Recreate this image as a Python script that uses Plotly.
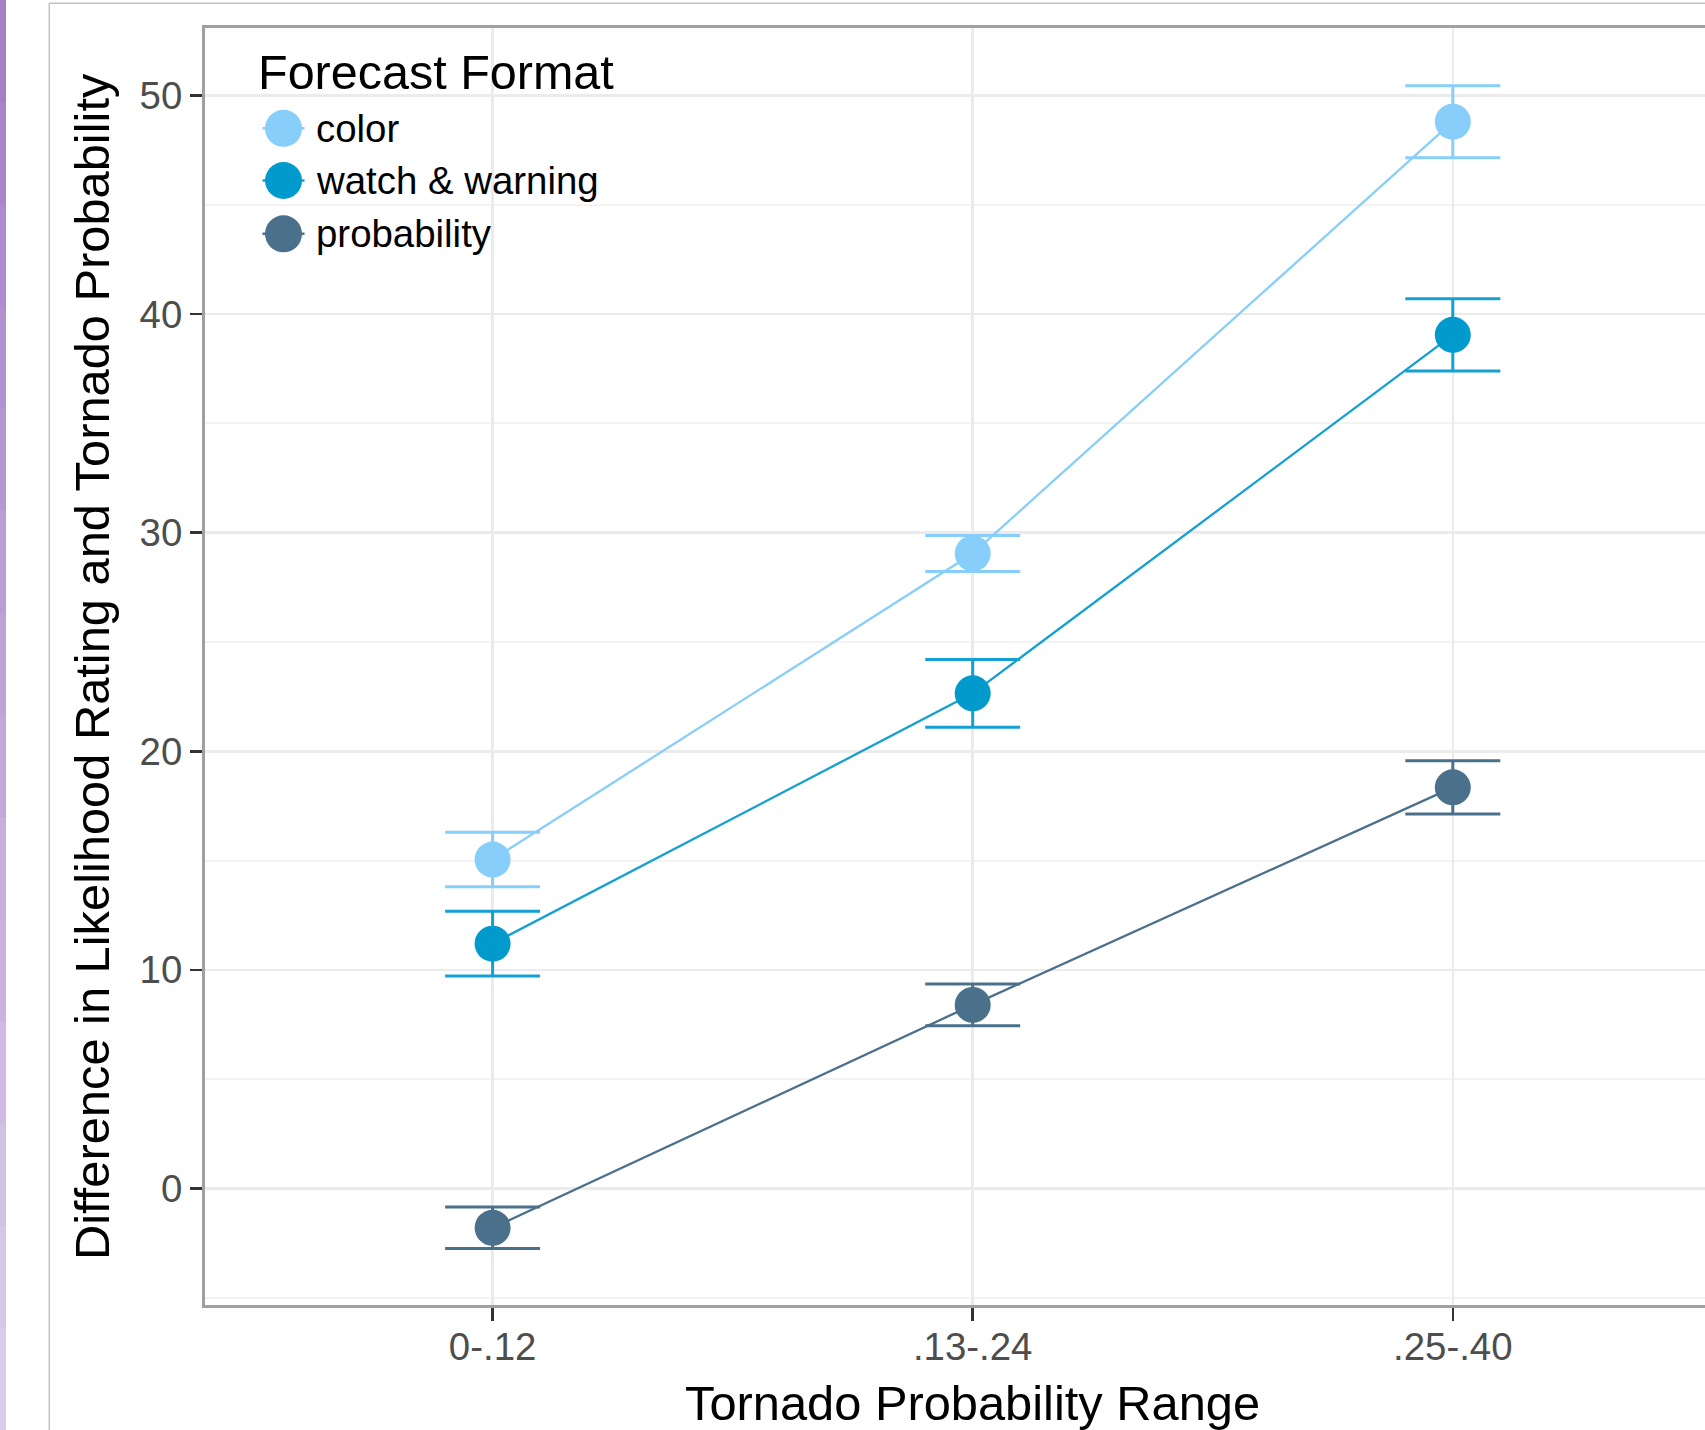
import plotly.graph_objects as go

# ---------------- data ----------------
categories = ["0-.12", ".13-.24", ".25-.40"]
series_names = ["color", "watch & warning", "probability"]
means_color = [15.05, 29.05, 48.8]
means_watch = [11.2, 22.65, 39.05]
means_prob = [-1.8, 8.4, 18.35]
se_color = [1.25, 0.82, 1.65]
se_watch = [1.48, 1.55, 1.65]
se_prob = [0.95, 0.95, 1.22]
y_ticks = [0, 10, 20, 30, 40, 50]

marker_colors = ["#87cefa", "#009acd", "#4a708b"]
line_colors = ["#87cefa", "#14a0d2", "#4a708b"]

W, H = 1705, 1430
FONT = "Liberation Sans, Arial, sans-serif"

# panel geometry (pixels)
pl, pt, pb = 205, 28, 1305
x_first_px, x_step_px = 492.6, 480.1

xs = list(range(1, len(categories) + 1))
x_range = [1 - (x_first_px - pl) / x_step_px, 1 + (W - x_first_px) / x_step_px]
y_px50, y_px0 = 95.5, 1188.5
ppu = (y_px0 - y_px50) / 50.0
y_range = [0 - (pb - y_px0) / ppu, 50 + (y_px50 - pt) / ppu]

fig = go.Figure()

all_means = [means_color, means_watch, means_prob]
all_se = [se_color, se_watch, se_prob]

for name, m, se, mc, lc in zip(series_names, all_means, all_se, marker_colors, line_colors):
    fig.add_trace(go.Scatter(
        x=xs, y=m, mode="lines+markers", name=name, showlegend=False,
        line=dict(color=lc, width=2.3),
        marker=dict(color=mc, size=36, opacity=1, line=dict(width=0)),
        error_y=dict(type="data", array=se, visible=True, color=lc, thickness=3, width=47.5),
        xaxis="x", yaxis="y", hoverinfo="skip",
    ))

# ---------------- manual legend (pixel overlay axes) ----------------
key_x = 283.5
key_ys = [128.3, 180.5, 233.8]
for name, ky, mc, lc in zip(series_names, key_ys, marker_colors, line_colors):
    fig.add_trace(go.Scatter(
        x=[key_x - 21, key_x + 21], y=[ky, ky],
        mode="lines", showlegend=False, hoverinfo="skip",
        line=dict(color=lc, width=2.5),
        xaxis="x2", yaxis="y2",
    ))
    fig.add_trace(go.Scatter(
        x=[key_x], y=[ky],
        mode="markers", showlegend=False, hoverinfo="skip",
        marker=dict(color=mc, size=37, opacity=1, line=dict(width=0)),
        xaxis="x2", yaxis="y2",
    ))

annotations = [
    dict(text="Forecast Format", x=256, y=72, xref="x2", yref="y2", xanchor="left",
         yanchor="middle", showarrow=False, font=dict(family=FONT, size=48.5, color="#000000")),
]
for name, ky in zip(series_names, key_ys):
    annotations.append(dict(text=name, x=314, y=ky, xref="x2", yref="y2", xanchor="left",
                            yanchor="middle", showarrow=False,
                            font=dict(family=FONT, size=38.4, color="#000000")))
annotations.append(dict(text="Tornado Probability Range", x=972, y=1403, xref="x2", yref="y2",
                        xanchor="center", yanchor="middle", showarrow=False,
                        font=dict(family=FONT, size=48.8, color="#000000")))
annotations.append(dict(text="Difference in Likelihood Rating and Tornado Probability", x=92, y=667,
                        xref="x2", yref="y2", xanchor="center", yanchor="middle", textangle=-90,
                        showarrow=False, font=dict(family=FONT, size=48.8, color="#000000")))

# ---------------- decorations (screenshot frame) ----------------
shapes = []
top_rgb = (166, 127, 199)
bot_rgb = (218, 204, 234)
n = 14
for i in range(n):
    t = i / (n - 1)
    c = tuple(int(round(a + (b - a) * t)) for a, b in zip(top_rgb, bot_rgb))
    shapes.append(dict(type="rect", xref="x2", yref="y2", x0=0, x1=6,
                       y0=H * i / n, y1=H * (i + 1) / n + 1,
                       fillcolor="rgb(%d,%d,%d)" % c, line=dict(width=0), layer="above"))
shapes.append(dict(type="line", xref="x2", yref="y2", x0=49.3, x1=49.3, y0=3.3, y1=H,
                   line=dict(color="#c2c2c2", width=1.5)))
shapes.append(dict(type="line", xref="x2", yref="y2", x0=49.3, x1=W, y0=3.3, y1=3.3,
                   line=dict(color="#c2c2c2", width=1.5)))

fig.update_layout(
    width=W, height=H,
    margin=dict(l=0, r=0, t=0, b=0, pad=0),
    paper_bgcolor="#ffffff", plot_bgcolor="rgba(0,0,0,0)",
    showlegend=False,
    font=dict(family=FONT),
    xaxis=dict(
        domain=[pl / W, 1.0], range=x_range, anchor="y",
        tickmode="array", tickvals=xs, ticktext=categories,
        showgrid=True, gridcolor="#ebebeb", gridwidth=2.5,
        zeroline=False, showline=True, linecolor="#a0a0a0", linewidth=3, mirror=True,
        ticks="outside", ticklen=13, tickwidth=2.5, tickcolor="#333333",
        ticklabelstandoff=-7,
        tickfont=dict(family=FONT, size=38.4, color="#4d4d4d"),
        automargin=False, fixedrange=True,
    ),
    yaxis=dict(
        domain=[1 - pb / H, 1 - pt / H], range=y_range, anchor="x",
        tickmode="array", tickvals=y_ticks,
        showgrid=True, gridcolor="#ebebeb", gridwidth=2.5,
        minor=dict(tickmode="linear", tick0=5, dtick=10, showgrid=True, gridcolor="#f3f3f3",
                   gridwidth=2, ticks=""),
        zeroline=False, showline=True, linecolor="#a0a0a0", linewidth=3, mirror=False,
        ticks="outside", ticklen=12, tickwidth=2.5, tickcolor="#333333",
        ticklabelstandoff=0,
        tickfont=dict(family=FONT, size=38.4, color="#4d4d4d"),
        automargin=False, fixedrange=True,
    ),
    xaxis2=dict(domain=[0, 1], range=[0, W], anchor="y2", visible=False, fixedrange=True),
    yaxis2=dict(domain=[0, 1], range=[H, 0], anchor="x2", visible=False, fixedrange=True),
    annotations=annotations,
    shapes=shapes,
)

fig.write_html(
    "out.html",
    config={"displayModeBar": False, "staticPlot": True},
    post_script="document.body.style.margin='0';document.body.style.padding='0';"
                "document.body.style.overflow='hidden';",
)
